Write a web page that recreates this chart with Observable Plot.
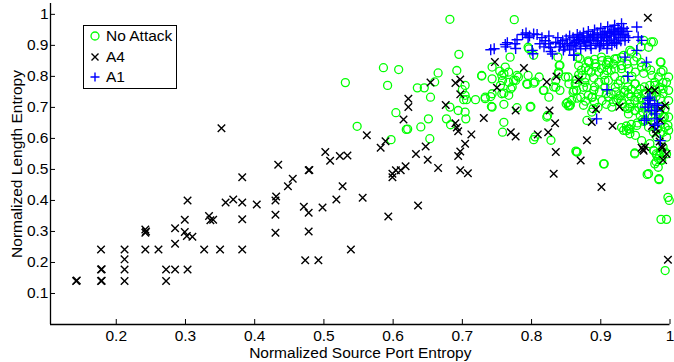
<!DOCTYPE html>
<html>
<head>
<meta charset="utf-8">
<script src="https://cdn.jsdelivr.net/npm/d3@7"></script>
<script src="https://cdn.jsdelivr.net/npm/@observablehq/plot@0.6"></script>
<style>
  body { margin: 0; background: #fff; }
  #wrap { position: relative; width: 674px; height: 362px; font-family: "Liberation Sans", Arial, Helvetica, sans-serif; }
  #legend { position: absolute; left: 83px; top: 25px; width: 92px; height: 62px; border: 1px solid #000; background: #fff; font-size: 15.5px; }
  .row { position: absolute; left: 0; height: 18px; line-height: 18px; white-space: nowrap; }
  .row svg { position: absolute; left: 5px; top: 3px; }
  .row span { position: absolute; left: 22px; top: 0; }
</style>
</head>
<body>
<div id="wrap"><div id="chart"></div><div id="legend"></div></div>
<script>
const seriesNames = ["No Attack", "A4", "A1"];
const seriesColors = ["#00ff00", "#000000", "#0000ff"];
const xLabel = "Normalized Source Port Entropy";
const yLabel = "Normalized Length Entropy";
const xDomain = [0.105, 1];
const yDomain = [0, 1.035];
const xTicks = [0.2, 0.3, 0.4, 0.5, 0.6, 0.7, 0.8, 0.9, 1];
const xTickLabels = ["0.2", "0.3", "0.4", "0.5", "0.6", "0.7", "0.8", "0.9", "1"];
const yTicks = [0.1, 0.2, 0.3, 0.4, 0.5, 0.6, 0.7, 0.8, 0.9, 1];
const yTickLabels = ["0.1", "0.2", "0.3", "0.4", "0.5", "0.6", "0.7", "0.8", "0.9", "1"];

// No Attack (green circles)
const noAttack = [
[0.531,0.78],[0.548,0.639],[0.586,0.828],[0.608,0.822],[0.592,0.771],[0.597,0.596],[0.604,0.683],[0.619,0.629],[0.621,0.63],[0.64,0.637],[0.653,0.599],[0.651,0.663],[0.635,0.763],[0.645,0.763],[0.66,0.782],[0.665,0.811],[0.654,0.733],[0.682,0.984],[0.775,0.983],[0.695,0.871],[0.692,0.819],[0.704,0.771],[0.7,0.757],[0.704,0.739],[0.702,0.725],[0.706,0.725],[0.719,0.725],[0.694,0.69],[0.704,0.685],[0.705,0.663],[0.682,0.701],[0.677,0.663],[0.683,0.644],[0.728,0.801],[0.733,0.733],
[0.795,0.894],[0.803,0.868],[0.796,0.889],[0.769,0.862],[0.838,0.862],[0.84,0.835],[0.839,0.814],[0.87,0.857],[0.883,0.846],[0.892,0.841],[0.902,0.851],[0.911,0.846],[0.923,0.857],[0.933,0.868],[0.942,0.884],[0.952,0.862],[0.962,0.916],[0.976,0.911],[0.969,0.894],[0.986,0.846],[0.99,0.819],[0.882,0.819],[0.897,0.814],[0.873,0.803],[0.909,0.819],[0.921,0.825],[0.93,0.835],[0.94,0.825],[0.95,0.814],[0.959,0.83],[0.974,0.803],[0.983,0.798],[0.995,0.781],[0.99,0.76],[0.986,0.728],[0.993,0.696],[0.99,0.669],[0.993,0.636],[0.986,0.615],[0.995,0.604],[0.99,0.572],[0.995,0.55],[0.981,0.545],[0.978,0.518],[0.969,0.486],[0.984,0.47],[0.949,0.55],
[0.758,0.787],[0.743,0.792],[0.754,0.817],[0.76,0.808],[0.743,0.83],[0.762,0.83],[0.767,0.781],[0.777,0.787],[0.779,0.803],[0.77,0.76],[0.76,0.746],[0.76,0.71],[0.767,0.739],[0.741,0.735],[0.742,0.703],[0.779,0.699],[0.799,0.703],[0.794,0.774],[0.803,0.778],[0.795,0.803],[0.811,0.798],[0.818,0.755],[0.835,0.765],[0.835,0.787],[0.849,0.798],[0.854,0.776],[0.861,0.755],[0.825,0.733],[0.85,0.712],[0.853,0.705],[0.856,0.708],[0.852,0.716],[0.871,0.733],[0.88,0.765],[0.89,0.755],[0.887,0.733],[0.897,0.781],[0.906,0.765],[0.911,0.787],[0.921,0.765],[0.928,0.787],[0.935,0.755],[0.94,0.744],[0.93,0.722],[0.935,0.701],[0.942,0.712],[0.95,0.69],[0.94,0.679],[0.95,0.776],[0.957,0.76],[0.952,0.733],[0.962,0.744],[0.966,0.722],[0.959,0.706],[0.971,0.771],[0.978,0.781],[0.974,0.739],[0.981,0.749],[0.976,0.712],[0.983,0.679],[0.974,0.669],[0.957,0.674],[0.964,0.658],[0.887,0.685],[0.889,0.696],[0.88,0.658],[0.902,0.722],[0.911,0.733],[0.916,0.701],[0.923,0.722],
[0.758,0.62],[0.76,0.652],[0.823,0.674],[0.866,0.556],[0.904,0.518],[0.933,0.626],[0.94,0.631],[0.942,0.615],[0.95,0.61],[0.959,0.593],[0.952,0.642],[0.969,0.636],[0.976,0.62],[0.981,0.604],[0.971,0.583],[0.976,0.561],[0.986,0.556],[0.993,0.556],[0.988,0.529],[0.983,0.507],[0.998,0.626],[0.998,0.669],[0.998,0.722],[0.998,0.755],[0.998,0.798],
[0.805,0.605],[0.803,0.596],[0.828,0.594],[0.864,0.559],
[0.728,0.803],[0.757,0.803],[0.767,0.814],[0.781,0.798],[0.774,0.787],[0.772,0.766],[0.755,0.771],[0.743,0.744],[0.733,0.728],[0.743,0.701],[0.757,0.744],[0.793,0.776],[0.805,0.782],[0.798,0.701],[0.817,0.755],[0.841,0.836],[0.839,0.809],[0.853,0.798],[0.832,0.766],[0.841,0.755],[0.865,0.755],[0.822,0.669],
[0.867,0.862],[0.882,0.85],[0.891,0.855],[0.901,0.862],[0.91,0.852],[0.92,0.856],[0.93,0.862],[0.944,0.879],[0.958,0.895],[0.973,0.911],[0.987,0.846],[0.987,0.814],
[0.872,0.82],[0.886,0.814],[0.901,0.825],[0.915,0.82],[0.93,0.825],
[0.863,0.776],[0.877,0.781],[0.891,0.766],[0.906,0.787],[0.925,0.776],[0.939,0.766],[0.949,0.776],[0.963,0.766],[0.978,0.771],
[0.86,0.749],[0.882,0.739],[0.915,0.744],[0.934,0.749],[0.954,0.744],[0.973,0.744],
[0.858,0.723],[0.875,0.707],[0.891,0.717],[0.925,0.728],[0.942,0.7],[0.949,0.723],[0.963,0.701],
[0.855,0.705],[0.888,0.733],[0.932,0.712],[0.939,0.696],[0.949,0.69],[0.961,0.685],
[0.987,0.701],[0.992,0.669],[0.987,0.648],[0.997,0.642],
[0.865,0.556],[0.905,0.518],[0.949,0.553],[0.967,0.484],[0.984,0.467],[0.997,0.41],[0.999,0.40],[0.987,0.339],[0.995,0.339],[0.993,0.174],
[0.93,0.635],[0.937,0.625],[0.942,0.63],[0.937,0.64],[0.944,0.645],[0.953,0.65],[0.962,0.655],
[0.977,0.56],[0.98,0.55],[0.985,0.545],[0.983,0.535],[0.98,0.525],[0.987,0.53],
[0.868,0.835],[0.878,0.828],[0.893,0.83],[0.908,0.838],[0.918,0.84],[0.938,0.84],[0.948,0.85],[0.958,0.845],[0.966,0.83],[0.972,0.82],[0.962,0.81],[0.945,0.8],[0.935,0.79],[0.92,0.8],[0.905,0.805],[0.89,0.795],[0.878,0.795],[0.868,0.805],[0.865,0.79],[0.875,0.765],[0.898,0.75],[0.908,0.745],[0.922,0.75],[0.944,0.758],[0.958,0.73],[0.944,0.735],[0.928,0.738],[0.918,0.718],[0.908,0.71],[0.896,0.7],[0.878,0.72],[0.866,0.73],[0.955,0.7],[0.97,0.7],[0.965,0.745],[0.985,0.765],[0.99,0.78],[0.98,0.735],[0.99,0.745],[0.975,0.69],[0.968,0.675],[0.96,0.66],[0.985,0.685],[0.978,0.655],[0.99,0.62],[0.982,0.63]
];

// A4 (black crosses)
const a4 = [
[0.142,0.14],[0.143,0.142],[0.178,0.242],[0.178,0.177],[0.179,0.178],[0.178,0.14],[0.179,0.141],[0.212,0.242],[0.212,0.21],[0.212,0.177],[0.212,0.14],[0.242,0.306],[0.242,0.296],[0.243,0.3],[0.242,0.242],[0.261,0.242],[0.272,0.177],[0.272,0.14],[0.285,0.31],[0.285,0.26],[0.285,0.177],[0.299,0.338],[0.303,0.40],[0.299,0.298],[0.302,0.285],[0.31,0.283],[0.303,0.177],[0.327,0.242],[0.334,0.35],[0.336,0.336],[0.34,0.338],[0.35,0.242],[0.352,0.633],[0.358,0.393],[0.369,0.403],[0.382,0.393],[0.382,0.475],[0.382,0.339],[0.382,0.242],[0.403,0.387],[0.431,0.413],[0.43,0.40],[0.43,0.354],[0.43,0.296],[0.434,0.515],[0.448,0.446],[0.455,0.47],[0.478,0.497],[0.479,0.498],[0.471,0.38],[0.478,0.36],[0.478,0.30],[0.473,0.207],[0.492,0.207],[0.498,0.377],[0.502,0.556],[0.509,0.528],[0.518,0.403],[0.523,0.543],[0.527,0.446],[0.534,0.545],[0.539,0.242],[0.556,0.409],[0.562,0.61],[0.582,0.57],[0.589,0.591],[0.593,0.348],[0.599,0.486],[0.604,0.497],[0.611,0.497],[0.618,0.51],[0.599,0.475],[0.615,0.661],[0.622,0.728],[0.622,0.701],[0.633,0.55],[0.636,0.384],[0.647,0.574],[0.65,0.531],[0.654,0.78],[0.665,0.505],[0.676,0.708],[0.69,0.779],[0.697,0.79],[0.697,0.742],[0.69,0.649],[0.692,0.635],[0.694,0.623],[0.713,0.613],[0.704,0.583],[0.697,0.558],[0.694,0.543],[0.697,0.497],[0.708,0.488],[0.731,0.666],[0.747,0.846],[0.75,0.763],[0.77,0.62],[0.777,0.606],[0.777,0.69],[0.789,0.827],[0.809,0.613],[0.822,0.782],[0.824,0.62],[0.826,0.69],[0.834,0.649],[0.836,0.80],[0.835,0.556],[0.832,0.486],[0.868,0.789],[0.871,0.529],[0.88,0.594],[0.887,0.653],[0.893,0.694],[0.901,0.443],[0.917,0.641],[0.927,0.702],[0.968,0.989],[0.969,0.755],[0.978,0.755],[0.993,0.706],[0.986,0.696],[0.974,0.64],[0.98,0.63],[0.986,0.658],[0.959,0.57],[0.961,0.565],[0.962,0.56],[0.964,0.572],[0.979,0.615],[0.985,0.59],[0.988,0.575],[0.989,0.57],[0.997,0.209],[0.99,0.53],[0.995,0.55]
];

// A1 (blue plus)
const a1 = [
[0.741,0.886],[0.746,0.889],[0.762,0.903],[0.765,0.909],[0.763,0.895],[0.776,0.905],[0.779,0.918],[0.777,0.89],[0.787,0.935],[0.792,0.94],[0.797,0.93],[0.803,0.937],[0.808,0.935],[0.795,0.925],[0.801,0.884],[0.802,0.873],[0.812,0.905],[0.815,0.925],[0.82,0.915],[0.818,0.895],[0.825,0.93],[0.825,0.905],[0.828,0.88],[0.83,0.872],[0.827,0.893],
[0.835,0.91],[0.838,0.925],[0.84,0.895],[0.842,0.905],[0.845,0.915],[0.846,0.885],[0.848,0.895],[0.85,0.92],[0.852,0.905],[0.855,0.93],[0.855,0.888],[0.857,0.9],[0.86,0.925],[0.861,0.868],[0.862,0.91],[0.864,0.895],[0.866,0.935],[0.868,0.918],[0.87,0.905],[0.871,0.889],[0.873,0.925],[0.875,0.94],[0.876,0.912],[0.878,0.898],[0.88,0.93],[0.882,0.945],[0.883,0.915],[0.885,0.9],[0.886,0.89],[0.888,0.935],[0.89,0.92],[0.891,0.95],[0.893,0.905],[0.895,0.94],[0.896,0.925],[0.898,0.895],[0.9,0.955],[0.901,0.915],[0.903,0.935],[0.904,0.905],[0.906,0.945],[0.908,0.925],[0.909,0.89],[0.91,0.96],[0.912,0.915],[0.913,0.94],[0.915,0.93],[0.916,0.9],[0.918,0.95],[0.919,0.92],[0.92,0.965],[0.922,0.935],[0.923,0.905],[0.925,0.955],[0.926,0.925],[0.928,0.945],[0.929,0.915],[0.93,0.97],[0.932,0.935],[0.933,0.955],[0.935,0.916],[0.935,0.93],[0.938,0.945],[0.94,0.925],
[0.87,0.93],[0.88,0.91],[0.89,0.93],[0.9,0.925],[0.905,0.93],[0.91,0.94],[0.915,0.945],[0.92,0.945],[0.925,0.94],[0.93,0.95],[0.895,0.915],[0.885,0.925],[0.875,0.92],[0.865,0.915],[0.86,0.9],[0.9,0.9],[0.91,0.905],[0.92,0.91],
[0.952,0.959],[0.954,0.927],[0.959,0.916],[0.952,0.884],[0.935,0.862],[0.966,0.846],[0.939,0.8],[0.909,0.757],[0.894,0.663],[0.861,0.868],
[0.971,0.722],[0.969,0.701],[0.978,0.712],[0.964,0.701],[0.966,0.663],[0.981,0.663],[0.986,0.593],[0.978,0.679],[0.971,0.733],[0.968,0.728],[0.973,0.69],[0.98,0.69],[0.982,0.707],[0.963,0.658],[0.978,0.642],[0.982,0.647],[0.968,0.712]
];

const fontFamily = '"Liberation Sans", Arial, Helvetica, sans-serif';
const chart = Plot.plot({
  width: 674,
  height: 362,
  marginLeft: 50,
  marginRight: 4.5,
  marginTop: 3,
  marginBottom: 38,
  style: { fontFamily, fontSize: "15px", background: "#fff", overflow: "visible", color: "#000" },
  x: { domain: xDomain },
  y: { domain: yDomain },
  marks: [
    Plot.dot(noAttack, { x: d => d[0], y: d => d[1], r: 4, fill: "none", stroke: seriesColors[0], strokeWidth: 1.3 }),
    Plot.dot(a4, { x: d => d[0], y: d => d[1], symbol: "times", r: 3.5, stroke: seriesColors[1], strokeWidth: 1.4 }),
    Plot.dot(a1, { x: d => d[0], y: d => d[1], symbol: "plus", r: 3.6, stroke: seriesColors[2], strokeWidth: 1.4 }),
    Plot.ruleY([yDomain[0]], { stroke: "#000", strokeWidth: 1.3 }),
    Plot.ruleX([xDomain[0]], { stroke: "#000", strokeWidth: 1.3 }),
    Plot.axisX(xTicks, {
      tickSize: -5, tickPadding: 10, fontSize: 15,
      tickFormat: d => xTickLabels[xTicks.indexOf(d)],
      label: xLabel, labelAnchor: "center", labelOffset: 33, labelArrow: "none"
    }),
    Plot.axisY(yTicks, {
      tickSize: -5, tickPadding: 7, fontSize: 15,
      tickFormat: d => yTickLabels[yTicks.indexOf(d)],
      label: yLabel, labelAnchor: "center", labelOffset: 40, labelArrow: "none"
    })
  ]
});
d3.select(chart).selectAll("[aria-label$='label'] text").style("font-size", "15.5px");
document.getElementById("chart").appendChild(chart);

// legend
const legend = document.getElementById("legend");
const markerSvg = [
  `<svg width="12" height="12"><circle cx="6" cy="6" r="4" fill="none" stroke="${seriesColors[0]}" stroke-width="1.3"/></svg>`,
  `<svg width="12" height="12"><path d="M2.5,2.5L9.5,9.5M2.5,9.5L9.5,2.5" stroke="${seriesColors[1]}" stroke-width="1.4"/></svg>`,
  `<svg width="12" height="12"><path d="M1.5,6L10.5,6M6,1.5L6,10.5" stroke="${seriesColors[2]}" stroke-width="1.4"/></svg>`
];
const rowCenters = [10, 31, 51];
seriesNames.forEach((name, i) => {
  const row = document.createElement("div");
  row.className = "row";
  row.style.top = (rowCenters[i] - 9) + "px";
  row.innerHTML = markerSvg[i] + `<span>${name}</span>`;
  legend.appendChild(row);
});
</script>
</body>
</html>
